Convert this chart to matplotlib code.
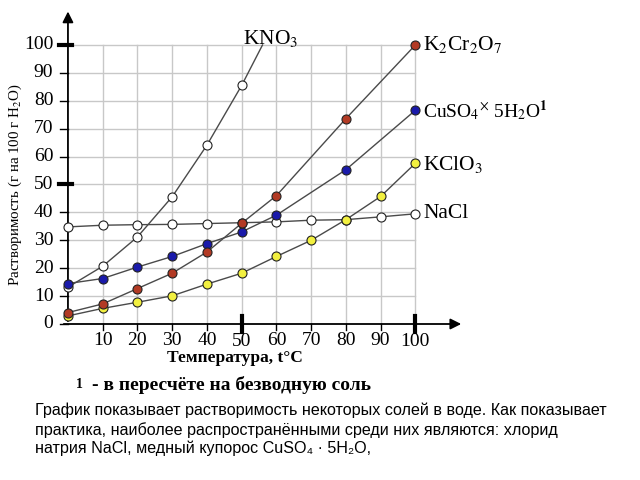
import matplotlib
matplotlib.use("Agg")
import matplotlib.pyplot as plt

plt.rcParams['mathtext.fontset'] = 'stix'

temps = [0, 10, 20, 30, 40, 50, 60, 70, 80, 90, 100]

nacl_t = [0, 10, 20, 30, 40, 50, 60, 70, 80, 90, 100]
nacl_v = [34.8, 35.4, 35.6, 35.7, 36.0, 36.3, 36.6, 37.2, 37.4, 38.4, 39.5]

kno3_t = [0, 10, 20, 30, 40, 50]
kno3_v = [13.2, 20.7, 31.2, 45.6, 64.1, 85.5]
kno3_end_t = [50, 56]
kno3_end_v = [85.5, 100]

k2cr_t = [0, 10, 20, 30, 40, 50, 60, 80, 100]
k2cr_v = [4.1, 7.2, 12.7, 18.2, 25.8, 36.1, 46.0, 73.6, 100.0]

cuso4_t = [0, 10, 20, 30, 40, 50, 60, 80, 100]
cuso4_v = [14.5, 16.3, 20.4, 24.2, 28.8, 33.0, 39.0, 55.3, 76.6]

kclo3_t = [0, 10, 20, 30, 40, 50, 60, 70, 80, 90, 100]
kclo3_v = [2.9, 5.6, 7.8, 10.1, 14.3, 18.2, 24.2, 30.0, 37.4, 45.7, 57.6]

xticks = [10, 20, 30, 40, 50, 60, 70, 80, 90, 100]
yticks = [0, 10, 20, 30, 40, 50, 60, 70, 80, 90, 100]

SERIF = 'Liberation Serif'
line_c = '#4a4a4a'

fig = plt.figure(figsize=(6.4, 4.8), dpi=100)
ax = fig.add_axes([61/640, 156/480, (464-61)/640, (324-11.5)/480])
ax.set_xlim(-2, 114)
ax.set_ylim(0, 112)
ax.axis('off')

# grid
for t in xticks:
    ax.plot([t, t], [0, 100], color='#c8c8c8', lw=1, zorder=1)
for v in yticks[1:]:
    ax.plot([0, 100], [v, v], color='#c8c8c8', lw=1, zorder=1)

# axes with arrows
ax.annotate('', xy=(114, 0), xytext=(-2, 0),
            arrowprops=dict(arrowstyle='-|>', color='black', lw=1.3, mutation_scale=16),
            annotation_clip=False, zorder=3)
ax.annotate('', xy=(0, 113), xytext=(0, 0),
            arrowprops=dict(arrowstyle='-|>', color='black', lw=1.3, mutation_scale=16),
            annotation_clip=False, zorder=3)

# ticks
for t in xticks:
    ax.plot([t, t], [0, -2.0], color='black', lw=1, clip_on=False, zorder=3)
for t in [50, 100]:
    ax.plot([t, t], [-2.7, 2.7], color='black', lw=3, clip_on=False, zorder=3)
for v in yticks:
    ax.plot([-2.2, 0], [v, v], color='black', lw=1, clip_on=False, zorder=3)
for v in [50, 100]:
    ax.plot([-2.6, 1.2], [v, v], color='black', lw=3, clip_on=False, zorder=3)

for t in xticks:
    dy = -6.3 if t in (50, 100) else -5.8
    ax.text(t, dy, str(t), ha='center', va='center', fontsize=14,
            family=SERIF, clip_on=False)
for v in yticks:
    ax.text(-4.2, v, str(v), ha='right', va='center', fontsize=14,
            family=SERIF, clip_on=False)

mk = dict(marker='o', markersize=6.5, markeredgecolor='#222222', markeredgewidth=0.8)

ax.plot(nacl_t, nacl_v, color=line_c, lw=1.0, markerfacecolor='white', zorder=4, **mk)
ax.plot(kno3_end_t, kno3_end_v, color=line_c, lw=1.0, zorder=4)
ax.plot(kno3_t, kno3_v, color=line_c, lw=1.0, markerfacecolor='white', zorder=5, **mk)
ax.plot(kclo3_t, kclo3_v, color=line_c, lw=1.0, markerfacecolor='#f2f040', zorder=5, **mk)
ax.plot(cuso4_t, cuso4_v, color=line_c, lw=1.0, markerfacecolor='#1a1aaa', zorder=6, **mk)
ax.plot(k2cr_t, k2cr_v, color=line_c, lw=1.0, markerfacecolor='#b23a24', zorder=6, **mk)

# series labels
lfs = 15.5
ax.text(50.3, 102.5, r'KNO$_3$', fontsize=lfs, family=SERIF, va='center', clip_on=False)
ax.text(102.3, 100.0, r'K$_2$Cr$_2$O$_7$', fontsize=lfs, family=SERIF, va='center', clip_on=False)
ax.text(102.3, 76.6, r'CuSO$_4$$^{\times}$ 5H$_2$O$^{\mathbf{1}}$', fontsize=14, family=SERIF, va='center', clip_on=False)
ax.text(102.3, 57.3, r'KClO$_3$', fontsize=lfs, family=SERIF, va='center', clip_on=False)
ax.text(102.3, 39.7, 'NaCl', fontsize=lfs, family=SERIF, va='center', clip_on=False)

# axis labels
fig.text(15/640, 1 - 185/480, r'Растворимость (г на 100 г H$_2$O)', rotation=90,
         ha='center', va='center', fontsize=10.8, family=SERIF)
fig.text(235/640, 1 - 358/480, 'Температура, t°C', ha='center', va='center',
         fontsize=12.5, family=SERIF, fontweight='bold')

fig.text(76/640, 1 - 385/480, '1', ha='left', va='center',
         fontsize=10, family=SERIF, fontweight='bold')
fig.text(92/640, 1 - 385/480, '- в пересчёте на безводную соль', ha='left', va='center',
         fontsize=14, family=SERIF, fontweight='bold')

para = ('График показывает растворимость некоторых солей в воде. Как показывает\n'
        'практика, наиболее распространёнными среди них являются: хлорид\n'
        'натрия NaCl, медный купорос CuSO₄ · 5H₂O,')
fig.text(35/640, 1 - 403/480, para, ha='left', va='top', fontsize=11.65,
         family='Liberation Sans', linespacing=1.25)

fig.savefig('out.png', dpi=100)
